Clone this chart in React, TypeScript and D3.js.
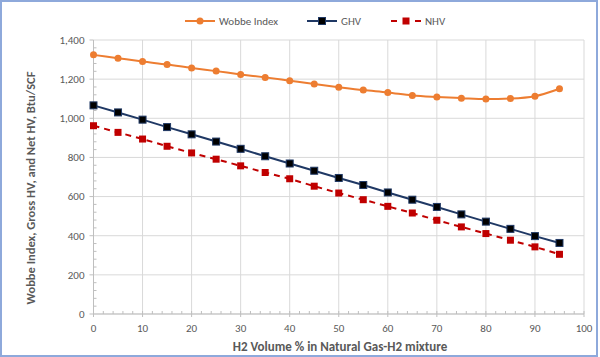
import React from "react";
import * as d3 from "d3";

const h2Pct = [0, 5, 10, 15, 20, 25, 30, 35, 40, 45, 50, 55, 60, 65, 70, 75, 80, 85, 90, 95];
const wobbe = [1324, 1307, 1290, 1275, 1257, 1241, 1224, 1209, 1192, 1175, 1159, 1144, 1132, 1117, 1109, 1103, 1098, 1101, 1113, 1151];
const ghv = [1066, 1030, 993, 955, 918, 881, 844, 806, 769, 732, 695, 659, 621, 584, 547, 509, 472, 435, 398, 363];
const nhv = [962, 928, 894, 857, 823, 791, 757, 723, 691, 653, 618, 584, 550, 516, 479, 445, 411, 377, 343, 305];
const xTicks = [0, 10, 20, 30, 40, 50, 60, 70, 80, 90, 100];
const yTicks = [0, 200, 400, 600, 800, 1000, 1200, 1400];

const W = 600, H = 357;
const left = 93.5, right = 584, top = 40, bottom = 314;
const font = "Carlito, Calibri, 'Open Sans', 'Liberation Sans', sans-serif";

export default function App() {
  const x = d3.scaleLinear().domain([0, 100]).range([left, right]);
  const y = d3.scaleLinear().domain([0, 1400]).range([bottom, top]);
  const line = (vals: number[]) =>
    d3.line<number>().x((_, i) => x(h2Pct[i])).y((d) => y(d))(vals) || "";
  const wobbeLine = d3
    .line<number>()
    .x((_, i) => x(h2Pct[i]))
    .y((d) => y(d))
    .curve(d3.curveMonotoneX)(wobbe) || "";
  const xMinor = d3.range(0, 101, 2).filter((v) => v % 10 !== 0);
  const yMinor = d3.range(0, 1401, 40).filter((v) => v % 200 !== 0);
  const fmt = d3.format(",");
  const grey = "#595959";
  const orange = "#ED7D31";
  const navy = "#1F3864";
  const red = "#C00000";

  return (
    <svg width={W} height={H} style={{ position: "absolute", left: 0, top: 0, background: "#fff" }}>
      <rect x={1} y={1} width={596} height={355} fill="#fff" stroke="#8EA9DB" strokeWidth={2} />
      {/* gridlines */}
      {yTicks.map((t) => (
        <line key={"gy" + t} x1={left} x2={right} y1={y(t)} y2={y(t)} stroke="#D9D9D9" strokeWidth={1} />
      ))}
      {xTicks.map((t) => (
        <line key={"gx" + t} x1={x(t)} x2={x(t)} y1={top} y2={bottom} stroke="#D9D9D9" strokeWidth={1} />
      ))}
      {/* axes */}
      <line x1={left} x2={left} y1={top} y2={bottom} stroke="#BFBFBF" />
      <line x1={left} x2={right} y1={bottom} y2={bottom} stroke="#BFBFBF" />
      {yMinor.map((t) => (
        <line key={"ym" + t} x1={left} x2={left + 3} y1={y(t)} y2={y(t)} stroke="#BFBFBF" />
      ))}
      {yTicks.map((t) => (
        <line key={"yM" + t} x1={left - 4} x2={left} y1={y(t)} y2={y(t)} stroke="#BFBFBF" />
      ))}
      {xMinor.map((t) => (
        <line key={"xm" + t} x1={x(t)} x2={x(t)} y1={bottom - 3} y2={bottom} stroke="#BFBFBF" />
      ))}
      {xTicks.map((t) => (
        <line key={"xM" + t} x1={x(t)} x2={x(t)} y1={bottom - 3} y2={bottom + 3} stroke="#BFBFBF" />
      ))}
      {/* tick labels */}
      {yTicks.map((t) => (
        <text key={"yl" + t} x={left - 9} y={y(t)} dy="0.35em" textAnchor="end" fontSize={11} fill={grey} fontFamily={font}>
          {fmt(t)}
        </text>
      ))}
      {xTicks.map((t) => (
        <text key={"xl" + t} x={x(t)} y={bottom + 18} textAnchor="middle" fontSize={11} fill={grey} fontFamily={font}>
          {t}
        </text>
      ))}
      {/* axis titles */}
      <text x={340} y={351} textAnchor="middle" fontSize={13} fontWeight="bold" fill={grey} fontFamily={font}>
        H2 Volume % in Natural Gas-H2 mixture
      </text>
      <text transform={`translate(35,188) rotate(-90)`} textAnchor="middle" fontSize={12.5} fontWeight="bold" fill={grey} fontFamily={font}>
        Wobbe Index, Gross HV, and Net HV, Btu/SCF
      </text>
      {/* series */}
      <path d={wobbeLine} fill="none" stroke={orange} strokeWidth={2} />
      {wobbe.map((v, i) => (
        <circle key={"w" + i} cx={x(h2Pct[i])} cy={y(v)} r={3.5} fill={orange} />
      ))}
      <path d={line(ghv)} fill="none" stroke={navy} strokeWidth={2} />
      {ghv.map((v, i) => (
        <rect key={"g" + i} x={x(h2Pct[i]) - 3.5} y={y(v) - 3.5} width={7} height={7} fill="#000" stroke={navy} strokeWidth={1} />
      ))}
      <path d={line(nhv)} fill="none" stroke={red} strokeWidth={2} strokeDasharray="6,5" />
      {nhv.map((v, i) => (
        <rect key={"n" + i} x={x(h2Pct[i]) - 3.5} y={y(v) - 3.5} width={7} height={7} fill={red} />
      ))}
      {/* legend */}
      <g fontFamily={font} fontSize={11} fill={grey}>
        <line x1={185} x2={215} y1={21} y2={21} stroke={orange} strokeWidth={2} />
        <circle cx={200} cy={21} r={3.5} fill={orange} />
        <text x={219} y={21} dy="0.35em">Wobbe Index</text>
        <line x1={307} x2={337} y1={21} y2={21} stroke={navy} strokeWidth={2} />
        <rect x={318.5} y={17.5} width={7} height={7} fill="#000" stroke={navy} />
        <text x={341} y={21} dy="0.35em">GHV</text>
        <line x1={391} x2={421} y1={21} y2={21} stroke={red} strokeWidth={2} strokeDasharray="6,6" strokeDashoffset={0} />
        <rect x={402.5} y={17.5} width={7} height={7} fill={red} />
        <text x={425} y={21} dy="0.35em">NHV</text>
      </g>
    </svg>
  );
}
